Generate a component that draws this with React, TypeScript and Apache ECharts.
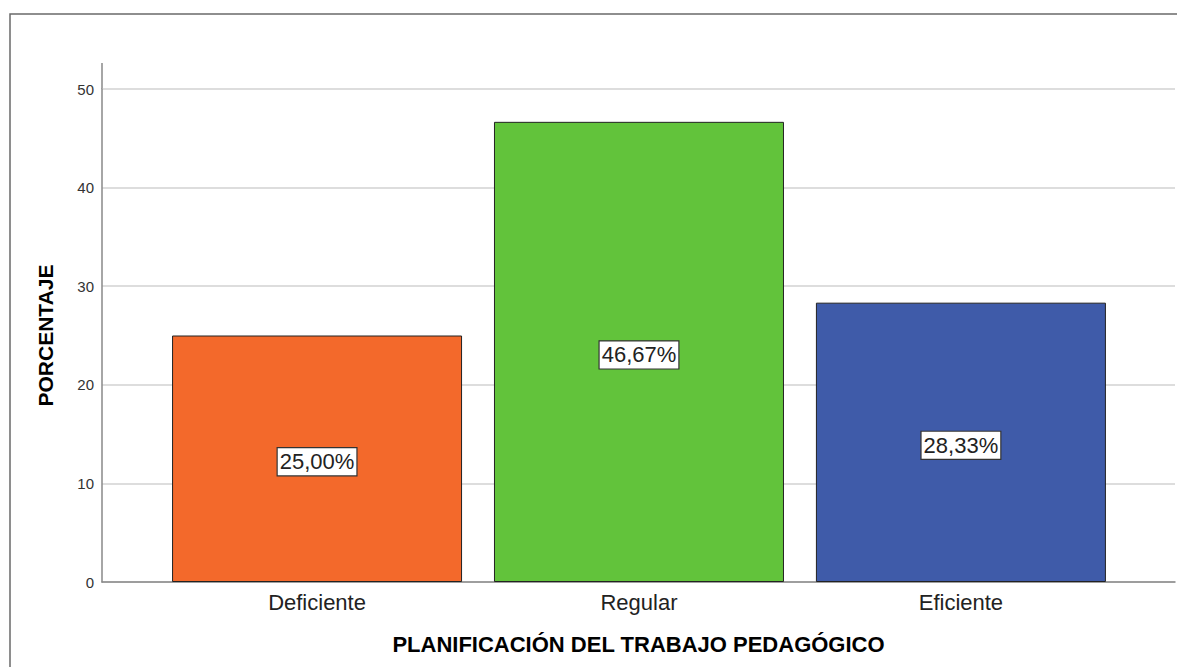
import React, { useEffect, useRef } from "react";
import * as echarts from "echarts";

const categories = ["Deficiente", "Regular", "Eficiente"];
const values = [25.0, 46.67, 28.33];
const labels = ["25,00%", "46,67%", "28,33%"];
const colors = ["#F3692B", "#62C33B", "#3F5BA9"];
const yTicks = [0, 10, 20, 30, 40, 50];

export default function App() {
  const ref = useRef<HTMLDivElement>(null);
  useEffect(() => {
    const chart = echarts.init(ref.current!, null, { renderer: "svg" });
    const font = "'Liberation Sans', Arial, sans-serif";
    chart.setOption({
      animation: false,
      backgroundColor: "#ffffff",
      grid: { left: 102, right: 2, top: 89, bottom: 85 },
      xAxis: {
        type: "value",
        min: -0.668,
        max: 2.665,
        name: "PLANIFICACIÓN DEL TRABAJO PEDAGÓGICO",
        nameLocation: "middle",
        nameGap: 51,
        nameTextStyle: { fontFamily: font, fontSize: 22, fontWeight: "bold", color: "#000" },
        axisLine: { show: true, onZero: false, lineStyle: { color: "#888", width: 1.5 } },
        axisTick: { show: false },
        splitLine: { show: false },
        axisLabel: {
          customValues: [0, 1, 2],
          formatter: (v: number) => categories[Math.round(v)] ?? "",
          fontFamily: font,
          fontSize: 22,
          color: "#222",
          margin: 9,
        },
      },
      yAxis: {
        type: "value",
        min: 0,
        max: 50,
        interval: 10,
        name: "PORCENTAJE",
        nameLocation: "middle",
        nameGap: 46,
        nameRotate: 90,
        nameTextStyle: { fontFamily: font, fontSize: 21, fontWeight: "bold", color: "#000" },
        axisLine: { show: true, onZero: false, lineStyle: { color: "#888", width: 1.5 } },
        axisTick: { show: false },
        axisLabel: {
          formatter: (v: number) => (yTicks.includes(v) ? String(v) : ""),
          fontFamily: font,
          fontSize: 15,
          color: "#333",
          margin: 8,
        },
        splitLine: { show: true, lineStyle: { color: "#d2d2d2", width: 1.5 } },
      },
      graphic: [
        {
          type: "rect",
          shape: { x: 10, y: 14, width: 1300, height: 800 },
          style: { fill: "none", stroke: "#6a6a6a", lineWidth: 1.5 },
          silent: true,
        },
        {
          type: "line",
          shape: { x1: 102, y1: 63, x2: 102, y2: 89 },
          style: { stroke: "#888", lineWidth: 1.5 },
          silent: true,
        },
      ],
      series: [
        {
          type: "bar",
          barWidth: 290,
          data: values.map((v, i) => ({
            value: [i, v],
            itemStyle: { color: colors[i], borderColor: "#222", borderWidth: 1 },
            label: {
              show: true,
              position: "inside",
              offset: [0, 3],
              formatter: () => labels[i],
              fontFamily: font,
              fontSize: 22,
              color: "#222",
              backgroundColor: "#fff",
              borderColor: "#333",
              borderWidth: 1.2,
              padding: [3, 2, 2, 2],
            },
          })),
        },
      ],
    });
    return () => chart.dispose();
  }, []);
  return (
    <div
      ref={ref}
      style={{ position: "fixed", left: 0, top: 0, width: 1177, height: 667 }}
    />
  );
}
